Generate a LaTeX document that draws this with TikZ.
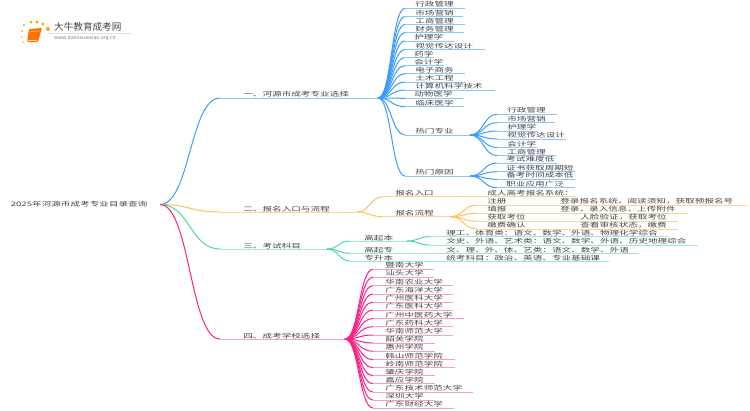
\documentclass[tikz,border=0pt]{standalone}
\usepackage{fontspec}
\usetikzlibrary{calc}
\newfontfamily\cjk{Noto Sans CJK SC}
\newcommand{\qcomma}{\char"FF0C\relax}
\newcommand{\qcolon}{\char"FF1A\relax}
\definecolor{mblue}{HTML}{3D9BFF}
\definecolor{lblue}{HTML}{8CC6FF}
\definecolor{morange}{HTML}{FFC35C}
\definecolor{lorange}{HTML}{FFD68F}
\definecolor{mgreen}{HTML}{4FD9A0}
\definecolor{lgreen}{HTML}{9CEBCB}
\definecolor{mpink}{HTML}{FF1F85}
\definecolor{lpink}{HTML}{FF9CCB}
\definecolor{mtext}{HTML}{454545}
\tikzset{
  txt/.style={anchor=west, inner sep=0pt, text=mtext, xscale=1.55,
    font=\cjk\fontsize{6.2}{7}\selectfont},
  curve/.style={line width=1pt, to path={.. controls ($(\tikztostart)!0.5!(\tikztostart-|\tikztotarget)$) and ($(\tikztotarget)!0.5!(\tikztotarget-|\tikztostart)$) .. (\tikztotarget)}},
}
\begin{document}
\begin{tikzpicture}[x=1pt, y=-1pt]
        \useasboundingbox (0, 0) rectangle (750, 410);
        % logo
        \foreach \dx/\dy/\dr in {24/25/1.1, 31/22/1.5, 37/22/1.6, 43/24/1.7, 48/29/2, 22/31/1, 22/37/0.9, 23/42/0.8}
            \fill[orange!70!yellow] (\dx, \dy) circle (\dr);
        \fill[orange!90!red, rounded corners=1pt] (29, 29) -- (42, 28) -- (38, 42) -- (27, 42) -- cycle;
        \draw[yellow!70, line width=0.5pt] (30.5, 31.5) -- (39, 31);
        \draw[white!70!orange, line width=0.5pt] (28, 40.5) -- (37, 40.5);
        \node[anchor=west, inner sep=0pt, text=mtext, font=\cjk\fontsize{9.6}{10}\selectfont] (logotext) at (54, 27) {大牛教育成考网};
        \node[anchor=west, inner sep=0pt, text=gray, font=\cjk\fontsize{5.1}{6}\selectfont] (logourl) at (54, 38.5) {www.daniuxuexiao.org.cn};
        \draw[black!12, line width=0.4pt] (48, 33) -- (132, 33);
        % root
        \node[txt] (root) at (10.5, 204.5) {2025年河源市成考专业目录查询};
        \coordinate (hub) at (160, 204.5);
        % first level
        \node[txt] (one) at (243, 94) {一、河源市成考专业选择};
        \node[txt] (two) at (243, 209) {二、报名入口与流程};
        \node[txt] (three) at (243, 246) {三、考试科目};
        \node[txt] (four) at (243, 336) {四、成考学校选择};
        \coordinate (onea) at (220, 98);   \coordinate (oneb) at (378, 98);
        \coordinate (twoa) at (220, 212);  \coordinate (twob) at (357, 212);
        \coordinate (threea) at (220, 249); \coordinate (threeb) at (327, 249);
        \coordinate (foura) at (220, 339); \coordinate (fourb) at (345, 339);
        \draw[mblue, curve] (hub) to (onea);
        \draw[morange, curve] (hub) to (twoa);
        \draw[mgreen, curve] (hub) to (threea);
        \draw[mpink, curve] (hub) to (foura);
        \draw[lblue, line width=0.8pt] (onea) -- (oneb);
        \draw[lorange, line width=0.8pt] (twoa) -- (twob);
        \draw[lgreen, line width=0.8pt] (threea) -- (threeb);
        \draw[lpink, line width=0.8pt] (foura) -- (fourb);
        % majors
        \foreach \ly/\lx/\lend/\ltext [count=\i] in {
            8.3/415/465/行政管理, 16.5/415/463/市场营销, 24.5/415/465/工商管理, 32.7/415/464/财务管理,
            41/414/455/护理学, 49.7/415/485/视觉传达设计, 57.7/414/434/药学, 65.7/414/444/会计学,
            73.7/415/465/电子商务, 82/415/465/土木工程, 90/415/495/计算机科学技术, 98.3/414/463/动物医学,
            106.7/415/464/临床医学} {
            \node[txt] (major\i) at (\lx, \ly-3.8) {\ltext};
            \coordinate (majora\i) at (405, \ly);
            \coordinate (majorb\i) at (\lend, \ly);
            \draw[mblue, curve] (oneb) to (majora\i);
            \draw[lblue, line width=0.8pt] (majora\i) -- (majorb\i);
        }
        % hot majors and reasons
        \node[txt] (hotm) at (415, 131.5) {热门专业};
        \node[txt] (hotr) at (415, 172) {热门原因};
        \coordinate (hotma) at (405, 135); \coordinate (hotmb) at (470, 135);
        \coordinate (hotra) at (405, 176); \coordinate (hotrb) at (470, 176);
        \draw[mblue, curve] (oneb) to (hotma);
        \draw[mblue, curve] (oneb) to (hotra);
        \draw[lblue, line width=0.8pt] (hotma) -- (hotmb);
        \draw[lblue, line width=0.8pt] (hotra) -- (hotrb);
        \foreach \ly/\lend/\ltext [count=\i] in {
            114.3/557/行政管理, 122.7/555/市场营销, 131/537/护理学, 139/566/视觉传达设计,
            147.5/537/会计学, 155.5/556/工商管理} {
            \node[txt] (hotmaj\i) at (507, \ly-3.7) {\ltext};
            \coordinate (hotmaja\i) at (497, \ly);
            \coordinate (hotmajb\i) at (\lend, \ly);
            \draw[mblue, curve] (hotmb) to (hotmaja\i);
            \draw[lblue, line width=0.8pt] (hotmaja\i) -- (hotmajb\i);
        }
        \foreach \ly/\lend/\ltext [count=\i] in {
            163/557/考试难度低, 171.7/575/证书获取周期短, 179.3/575/备考时间成本低, 187.7/575/职业应用广泛} {
            \node[txt] (reason\i) at (506, \ly-3.7) {\ltext};
            \coordinate (reasona\i) at (497, \ly);
            \coordinate (reasonb\i) at (\lend, \ly);
            \draw[mblue, curve] (hotrb) to (reasona\i);
            \draw[lblue, line width=0.8pt] (reasona\i) -- (reasonb\i);
        }
        % entry and process
        \node[txt] (entry) at (395, 192.7) {报名入口};
        \node[txt] (flow) at (395, 213) {报名流程};
        \node[txt] (system) at (487, 192.7) {成人高考报名系统\qcolon};
        \coordinate (entrya) at (383, 196.7); \coordinate (entryb) at (577, 196.7);
        \coordinate (flowa) at (383, 216.7);  \coordinate (flowb) at (450, 216.7);
        \draw[morange, curve] (twob) to (entrya);
        \draw[morange, curve] (twob) to (flowa);
        \draw[lorange, line width=0.8pt] (entrya) -- (entryb);
        \draw[lorange, line width=0.8pt] (flowa) -- (flowb);
        \foreach \ly/\lend/\lnx/\ltext/\lnote [count=\i] in {
            205/747/560/注册/{登录报名系统\qcomma 阅读须知\qcomma 获取预报名号},
            213.3/688/560/填报/{登录\qcomma 录入信息\qcomma 上传附件},
            221.3/678/580/获取考位/{人脸验证\qcomma 获取考位},
            229/678/580/缴费确认/{查看审核状态\qcomma 缴费}} {
            \node[txt] (stepname\i) at (487, \ly-4) {\ltext};
            \node[txt] (stepnote\i) at (\lnx, \ly-4) {\lnote};
            \coordinate (stepa\i) at (477, \ly);
            \coordinate (stepb\i) at (\lend, \ly);
            \draw[morange, curve] (flowb) to (stepa\i);
            \draw[lorange, line width=0.8pt] (stepa\i) -- (stepb\i);
        }
        % subjects
        \node[txt] (gqb) at (364, 237.7) {高起本};
        \node[txt] (gqz) at (364, 250) {高起专};
        \node[txt] (zsb) at (364, 258) {专升本};
        \coordinate (gqba) at (350, 241);   \coordinate (gqbb) at (407, 241);
        \coordinate (gqza) at (350, 253.3); \coordinate (gqzb) at (639, 253.3);
        \coordinate (zsba) at (350, 261);   \coordinate (zsbb) at (609, 261);
        \draw[mgreen, curve] (threeb) to (gqba);
        \draw[mgreen, curve] (threeb) to (gqza);
        \draw[mgreen, curve] (threeb) to (zsba);
        \draw[lgreen, line width=0.8pt] (gqba) -- (gqbb);
        \draw[lgreen, line width=0.8pt] (gqza) -- (gqzb);
        \draw[lgreen, line width=0.8pt] (zsba) -- (zsbb);
        \node[txt] (like) at (446, 233) {理工、体育类\qcolon 语文、数学、外语、物理化学综合};
        \node[txt] (wenke) at (446, 241) {文史、外语、艺术类\qcolon 语文、数学、外语、历史地理综合};
        \node[txt] (gzsub) at (446, 250) {文、理、外、体、艺类\qcolon 语文、数学、外语};
        \node[txt] (zsbsub) at (446, 258) {统考科目\qcolon 政治、英语、专业基础课};
        \coordinate (likea) at (430, 236.7); \coordinate (likeb) at (668, 236.7);
        \coordinate (wenkea) at (430, 245);  \coordinate (wenkeb) at (698, 245);
        \draw[mgreen, curve] (gqbb) to (likea);
        \draw[mgreen, curve] (gqbb) to (wenkea);
        \draw[lgreen, line width=0.8pt] (likea) -- (likeb);
        \draw[lgreen, line width=0.8pt] (wenkea) -- (wenkeb);
        % schools
        \foreach \ly/\lend/\ltext [count=\i] in {
            269.3/434/暨南大学, 277.3/434/汕头大学, 285.7/453/华南农业大学, 294/453/广东海洋大学,
            302/453/广州医科大学, 310/453/广东医科大学, 318.5/464/广州中医药大学, 326.7/453/广东药科大学,
            335/453/华南师范大学, 343/435/韶关学院, 351.3/435/惠州学院, 359.7/455/韩山师范学院,
            367.7/455/岭南师范学院, 375.7/435/肇庆学院, 383.7/435/嘉应学院, 392/473/广东技术师范大学,
            400/435/深圳大学, 408/454/广东财经大学} {
            \node[txt] (school\i) at (385, \ly-3.8) {\ltext};
            \coordinate (schoola\i) at (373, \ly);
            \coordinate (schoolb\i) at (\lend, \ly);
            \draw[mpink, curve] (fourb) to (schoola\i);
            \draw[lpink, line width=0.8pt] (schoola\i) -- (schoolb\i);
        }
    \end{tikzpicture}
\end{document}
